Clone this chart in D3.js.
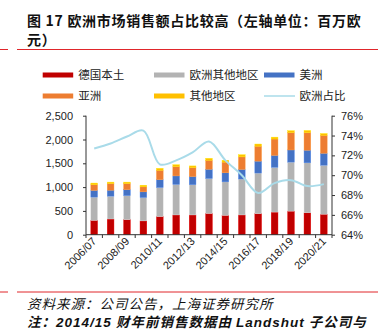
<!DOCTYPE html>
<html><head><meta charset="utf-8">
<script src="https://cdn.jsdelivr.net/npm/d3@7/dist/d3.min.js"></script>
<style>body{margin:0;background:#fff}svg{display:block}</style>
</head><body>
<svg id="c" width="381" height="331"></svg>
<script>
const categories = ["2006/07","2007/08","2008/09","2009/10","2010/11","2011/12","2012/13","2013/14","2014/15","2015/16","2016/17","2017/18","2018/19","2019/20","2020/21"];
const germany   = [300,330,315,290,380,415,415,445,405,415,440,475,495,460,430];
const otherEU   = [490,480,505,490,610,640,635,735,705,755,855,940,1030,1050,1030];
const americas  = [140,125,125,120,165,180,170,195,190,200,250,250,255,265,250];
const asia      = [120,140,130,105,200,195,190,190,225,265,315,345,365,370,380];
const otherReg  = [35,30,30,35,40,40,35,40,40,45,45,40,40,45,35];
const euShare   = [72.7,73.2,73.9,74.5,71.1,71.5,72.3,73.4,71.5,70.0,68.2,69.2,69.5,68.9,69.1];
const leftTicks = [0,500,1000,1500,2000,2500];
const rightTicks = [64,66,68,70,72,74,76];
const seriesNames = ["德国本土","欧洲其他地区","美洲","亚洲","其他地区","欧洲占比"];
const colors = ["#c00000","#b3b3b3","#4472c4","#ed7d31","#ffc000","#a9dbe9"];

const svg = d3.select("#c");
const numFont = "'Liberation Sans', Arial, sans-serif";
const cjk = "'Noto Sans CJK SC', sans-serif";

// title
svg.append("text").attr("x", 27).attr("y", 25.5).attr("font-family", cjk).attr("font-weight", "bold")
  .attr("font-size", 14).attr("letter-spacing", 0.7).attr("fill", "#111")
  .text("图 17 欧洲市场销售额占比较高（左轴单位：百万欧");
svg.append("text").attr("x", 27).attr("y", 45).attr("font-family", cjk).attr("font-weight", "bold")
  .attr("font-size", 14).attr("letter-spacing", 0.7).attr("fill", "#111").text("元）");

// red rules
[49.5, 292].forEach(y => {
  svg.append("line").attr("x1", 0).attr("x2", 8).attr("y1", y).attr("y2", y).attr("stroke", "#e0262b").attr("stroke-width", 1);
  svg.append("line").attr("x1", 17).attr("x2", 378).attr("y1", y).attr("y2", y).attr("stroke", "#e0262b").attr("stroke-width", 1);
});

// legend
const legPos = [[42.7,75],[154,75],[264,75],[42.7,96],[154,96],[264,96]];
seriesNames.forEach((n, i) => {
  const [lx, ly] = legPos[i];
  if (i < 5) {
    svg.append("rect").attr("x", lx).attr("y", ly - 2.5).attr("width", 30.5).attr("height", 5).attr("fill", colors[i]);
  } else {
    svg.append("line").attr("x1", lx).attr("x2", lx + 31).attr("y1", ly).attr("y2", ly).attr("stroke", colors[i]).attr("stroke-width", 1.5);
  }
  svg.append("text").attr("x", lx + 35.5).attr("y", ly + 4).attr("font-family", cjk).attr("font-size", 11.5).attr("fill", "#222").text(n);
});

// scales
const x = d3.scaleBand().domain(categories).range([86, 332]).paddingInner(0.59).paddingOuter(0.295);
const yL = d3.scaleLinear().domain([0, 2500]).range([234.7, 115.7]);
const yR = d3.scaleLinear().domain([64, 76]).range([234.7, 115.7]);

// bars
const stackData = categories.map((c, i) => ({cat: c, s0: germany[i], s1: otherEU[i], s2: americas[i], s3: asia[i], s4: otherReg[i]}));
const stack = d3.stack().keys(["s0","s1","s2","s3","s4"])(stackData);
stack.forEach((layer, k) => {
  svg.append("g").selectAll("rect").data(layer).join("rect")
    .attr("x", d => x(d.data.cat))
    .attr("width", x.bandwidth())
    .attr("y", d => yL(d[1]))
    .attr("height", d => yL(d[0]) - yL(d[1]))
    .attr("fill", colors[k])
    .attr("stroke", d3.color(colors[k]).brighter(0.6))
    .attr("stroke-width", 0.4);
});

// line
const line = d3.line().x((d, i) => x(categories[i]) + x.bandwidth() / 2).y(d => yR(d)).curve(d3.curveCatmullRom.alpha(0.5));
svg.append("path").datum(euShare).attr("d", line).attr("fill", "none").attr("stroke", colors[5]).attr("stroke-width", 2);

// axes
const axisColor = "#333";
const gL = svg.append("g").attr("transform", "translate(86,0)")
  .call(d3.axisLeft(yL).tickValues(leftTicks).tickFormat(d3.format(",")).tickSize(3).tickPadding(10));
const gR = svg.append("g").attr("transform", "translate(332,0)")
  .call(d3.axisRight(yR).tickValues(rightTicks).tickFormat(d => d + "%").tickSize(3).tickPadding(6));
[gL, gR].forEach(g => {
  g.select(".domain").attr("stroke", axisColor).attr("d", "M0,115.7V234.7");
  g.selectAll(".tick line").attr("stroke", axisColor);
  g.selectAll("text").attr("font-family", numFont).attr("font-size", 11).attr("fill", "#222");
});

// x axis
const step = x.step();
const gx = svg.append("g");
gx.append("line").attr("x1", 86).attr("x2", 332).attr("y1", 234.7).attr("y2", 234.7).attr("stroke", axisColor);
d3.range(categories.length + 1).forEach(i => {
  const xx = 86 + i * step;
  gx.append("line").attr("x1", xx).attr("x2", xx).attr("y1", 234.7).attr("y2", 238).attr("stroke", axisColor);
});
categories.forEach((c, i) => {
  if (i % 2 !== 0) return;
  const cx = x(c) + x.bandwidth() / 2 + 3;
  gx.append("text").attr("transform", `translate(${cx},${242}) rotate(-45)`)
    .attr("text-anchor", "end").attr("font-family", numFont).attr("font-size", 11).attr("fill", "#222").text(c);
});

// footer
svg.append("text").attr("x", 27).attr("y", 308.5).attr("font-family", cjk).attr("font-style", "italic")
  .attr("font-size", 13.5).attr("letter-spacing", 1).attr("fill", "#111")
  .text("资料来源：公司公告，上海证券研究所");
const f2 = svg.append("text").attr("x", 27).attr("y", 327).attr("font-family", cjk).attr("font-style", "italic")
  .attr("font-weight", "bold").attr("font-size", 13.5).attr("letter-spacing", 1).attr("fill", "#111");
f2.append("tspan").text("注：");
f2.append("tspan").attr("font-family", numFont).text("2014/15");
f2.append("tspan").text(" 财年前销售数据由 ");
f2.append("tspan").attr("font-family", numFont).text("Landshut");
f2.append("tspan").text(" 子公司与");
</script>
</body></html>
